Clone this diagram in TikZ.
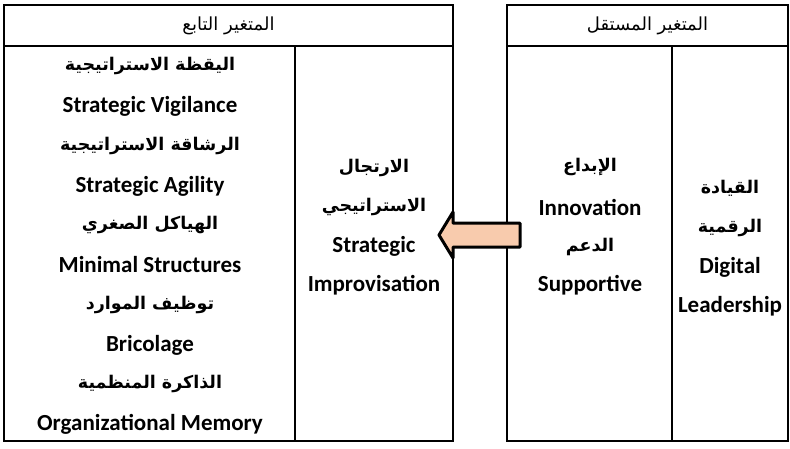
\documentclass[tikz,border=0pt]{standalone}
\usepackage{fontspec}
\setmainfont{Carlito}
\newfontfamily\arabicfont[Script=Arabic]{DejaVu Sans}
\TeXXeTstate=1
\begin{document}
\begin{tikzpicture}[x=1pt,y=-1pt,
  cell/.style={draw=black,line width=1.6pt,rectangle,inner sep=0pt},
  lat/.style={font=\fontsize{23}{25}\selectfont\bfseries,inner sep=0pt},
  arb/.style={font=\fontsize{17.5}{20}\selectfont\arabicfont\bfseries,inner sep=0pt},
  head/.style={font=\fontsize{18}{20}\selectfont\arabicfont,inner sep=0pt},
  blockarrow/.style={draw=black,line width=3pt,fill=arrowfill,line join=round}]
\definecolor{arrowfill}{HTML}{F8CBAD}
\useasboundingbox (0,0) rectangle (790,448);

% dependent variable table
\node[cell,minimum width=449pt,minimum height=41pt] (dephead) at (228.5,25.5) {};
\node[cell,minimum width=291pt,minimum height=395pt] (deplist) at (149.5,243.5) {};
\node[cell,minimum width=158pt,minimum height=395pt] (depmain) at (374,243.5) {};
% independent variable table
\node[cell,minimum width=281pt,minimum height=41pt] (indhead) at (647.5,25.5) {};
\node[cell,minimum width=165pt,minimum height=395pt] (indsub) at (589.5,243.5) {};
\node[cell,minimum width=116pt,minimum height=395pt] (indmain) at (730,243.5) {};

% headers
\node[head] (t1) at (dephead) {\beginR المتغير التابع\endR};
\node[head] (t2) at (indhead) {\beginR المتغير المستقل\endR};

% dimensions of the dependent variable
\node[arb] (d1) at (150,66) {\beginR اليقظة الاستراتيجية\endR};
\node[lat] (d2) at (150,106) {Strategic Vigilance};
\node[arb] (d3) at (150,146) {\beginR الرشاقة الاستراتيجية\endR};
\node[lat] (d4) at (150,186) {Strategic Agility};
\node[arb] (d5) at (150,225) {\beginR الهياكل الصغري\endR};
\node[lat] (d6) at (150,265) {Minimal Structures};
\node[arb] (d7) at (150,305) {\beginR توظيف الموارد\endR};
\node[lat] (d8) at (150,345) {Bricolage};
\node[arb] (d9) at (150,384) {\beginR الذاكرة المنظمية\endR};
\node[lat] (d10) at (150,424) {Organizational Memory};

% dependent variable
\node[arb] (m1) at (374,168) {\beginR الارتجال\endR};
\node[arb] (m2) at (374,207) {\beginR الاستراتيجي\endR};
\node[lat] (m3) at (374,246) {Strategic};
\node[lat] (m4) at (374,285) {Improvisation};

% dimensions of the independent variable
\node[arb] (s1) at (590,167) {\beginR الإبداع\endR};
\node[lat] (s2) at (590,207) {Innovation};
\node[arb] (s3) at (590,247) {\beginR الدعم\endR};
\node[lat] (s4) at (590,285) {Supportive};

% independent variable
\node[arb] (l1) at (730,188) {\beginR القيادة\endR};
\node[arb] (l2) at (730,228) {\beginR الرقمية\endR};
\node[lat] (l3) at (730,267) {Digital};
\node[lat] (l4) at (730,306) {Leadership};

% block arrow from the independent to the dependent variable
\draw[blockarrow] (520,223) -- (453,223) -- (453,212) -- (439,235)
  -- (453,258) -- (453,247) -- (520,247) -- cycle;
\end{tikzpicture}
\end{document}
